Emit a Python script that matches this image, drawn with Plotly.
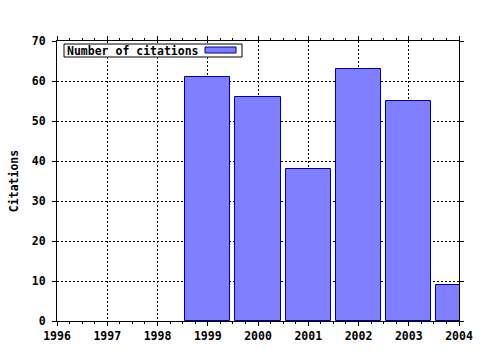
import plotly.graph_objects as go

years = [1999, 2000, 2001, 2002, 2003, 2004]
citations = [61, 56, 38, 63, 55, 9]
x_ticks = [1996, 1997, 1998, 1999, 2000, 2001, 2002, 2003, 2004]
y_ticks = [0, 10, 20, 30, 40, 50, 60, 70]
series_name = "Number of citations"

FONT = "DejaVu Sans Mono"

fig = go.Figure()
fig.add_trace(go.Bar(
    x=years, y=citations, width=0.9, name=series_name,
    marker=dict(color="#7f7fff", line=dict(color="#0000a0", width=1)),
    showlegend=False,
))

L, R, T, B = 57, 21, 41, 29
W, H = 480, 350
pw, ph = W - L - R, H - T - B

def px(xp):
    return (xp - L) / pw

def py(yp):
    return 1 - (yp - T) / ph

axis_common = dict(
    showline=True, linecolor="black", linewidth=1, mirror="ticks",
    ticks="outside", ticklen=4, tickcolor="black", tickwidth=1,
    showgrid=True, gridcolor="black", griddash="2px,2px", gridwidth=1,
    zeroline=False, automargin=False,
    tickfont=dict(family=FONT, size=11.5, color="black", weight="bold"),
)

fig.update_xaxes(
    range=[x_ticks[0], x_ticks[-1]], tickvals=x_ticks,
    ticktext=[str(v) for v in x_ticks],
    ticklabelstandoff=0,
    minor=dict(dtick=0.25, ticks="outside", ticklen=2, tickcolor="black", showgrid=False),
    **axis_common,
)
fig.update_yaxes(
    range=[y_ticks[0], y_ticks[-1]], tickvals=y_ticks,
    ticklabelstandoff=4,
    title=dict(text="Citations", font=dict(family=FONT, size=11.5, color="black", weight="bold"), standoff=10),
    **axis_common,
)

# legend box (gnuplot-style: text then sample)
fig.add_shape(type="rect", xref="paper", yref="paper",
              x0=px(64), x1=px(242), y0=py(57), y1=py(44),
              line=dict(color="black", width=1), fillcolor="white")
fig.add_shape(type="rect", xref="paper", yref="paper",
              x0=px(205), x1=px(236), y0=py(53), y1=py(47),
              line=dict(color="#0000a0", width=1), fillcolor="#7f7fff")
fig.add_annotation(text=series_name, xref="paper", yref="paper",
                   x=px(65), y=py(50.5), xanchor="left", yanchor="middle",
                   showarrow=False,
                   font=dict(family=FONT, size=11.5, color="black", weight="bold"))

fig.update_layout(
    width=W, height=H,
    margin=dict(l=L, r=R, t=T, b=B),
    paper_bgcolor="white", plot_bgcolor="white",
    bargap=0,
)

fig.write_html("out.html")
